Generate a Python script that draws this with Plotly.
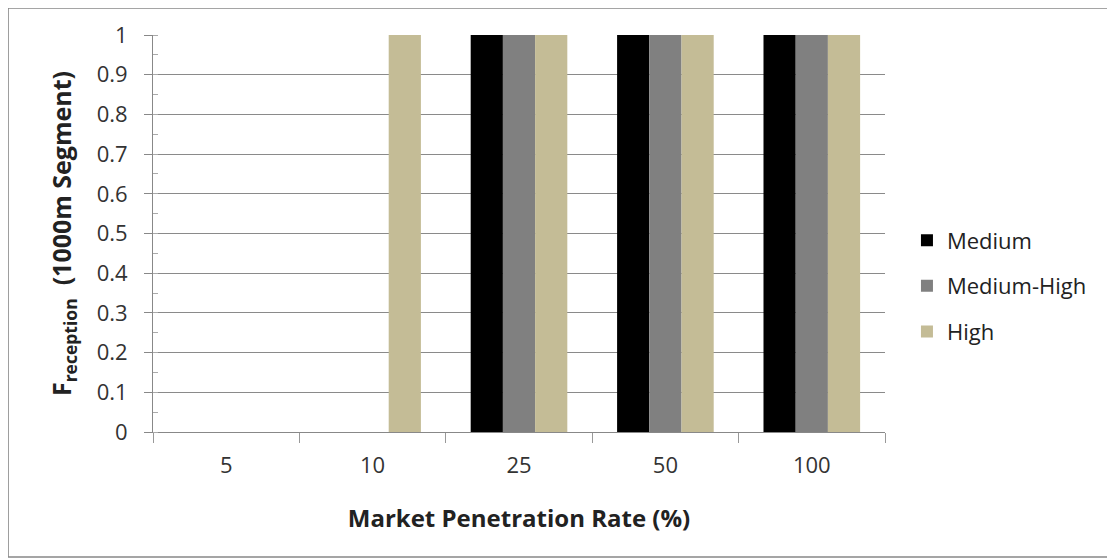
import plotly.graph_objects as go

categories = ["5", "10", "25", "50", "100"]
medium = [0, 0, 1, 1, 1]
medium_high = [0, 0, 1, 1, 1]
high = [0, 1, 1, 1, 1]

y_tickvals = [0, 0.1, 0.2, 0.3, 0.4, 0.5, 0.6, 0.7, 0.8, 0.9, 1]
y_ticktext = ["0", "0.1", "0.2", "0.3", "0.4", "0.5", "0.6", "0.7", "0.8", "0.9", "1"]

series_names = ["Medium", "Medium-High", "High"]
series_colors = ["#000000", "#808080", "#C4BC96"]

fig = go.Figure()
for name, vals, col in zip(series_names, [medium, medium_high, high], series_colors):
    fig.add_trace(go.Bar(x=categories, y=vals, name=name, legendgroup=name,
                         marker=dict(color=col, line=dict(width=0))))

font_family = "'Open Sans', Lato, sans-serif"

fig.update_layout(
    width=1107, height=552,
    margin=dict(l=145, r=230, t=27, b=128),
    paper_bgcolor="white", plot_bgcolor="white",
    barmode="group", bargap=0.34, bargroupgap=0,
    font=dict(family=font_family, size=22, color="#222"),
    legend=dict(x=1.030, y=0.368, yanchor="middle", xanchor="left",
                font=dict(size=22, color="#222"), tracegroupgap=14,
                itemwidth=30),
    xaxis=dict(
        type="category", showgrid=False, showline=True, linecolor="#888", linewidth=1,
        tickson="boundaries", ticks="outside", ticklen=10, tickcolor="#999",
        ticklabelstandoff=14,
        tickfont=dict(size=22, color="#333"),
        title=dict(text="<b>Market Penetration Rate (%)</b>", font=dict(size=24, color="#222"), standoff=31),
    ),
    yaxis=dict(
        range=[0, 1], tickmode="array", tickvals=y_tickvals, ticktext=y_ticktext,
        showgrid=True, gridcolor="#8a8a8a", gridwidth=1,
        showline=True, linecolor="#888", linewidth=1,
        ticks="outside", ticklen=8, tickcolor="#888",
        ticklabelstandoff=12,
        minor=dict(dtick=0.05, ticks="inside", ticklen=5, tickcolor="#aaa", showgrid=False),
        tickfont=dict(size=22, color="#333"),
        title=dict(text="<b>F<sub>reception</sub>  (1000m Segment)</b>", font=dict(size=25, color="#222"), standoff=17),
    ),
    shapes=[dict(type="rect", xref="paper", yref="paper",
                 x0=-0.198, x1=1.3115, y0=-0.315, y1=1.068,
                 line=dict(color="#888", width=1.5), fillcolor="rgba(0,0,0,0)", layer="below")],
)

fig.write_html("out.html")
